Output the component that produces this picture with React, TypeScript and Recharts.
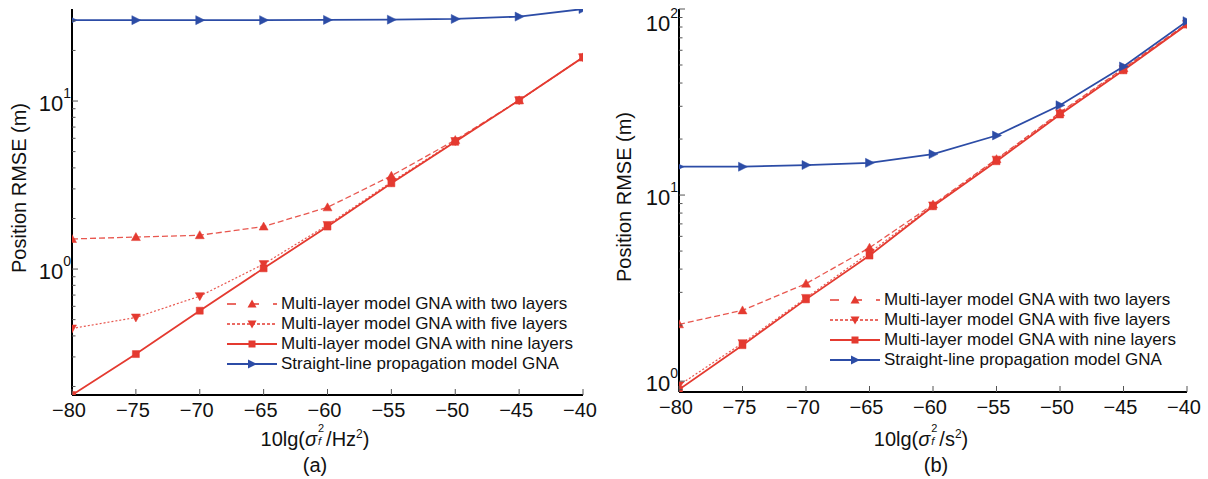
import React from 'react';
import { LineChart, Line, XAxis, YAxis, Legend } from 'recharts';

const FONT = '"Liberation Sans", Arial, Helvetica, sans-serif';
const RED = '#e43a30';
const BLUE = '#2c4ca6';
const TICK = '#555';

// shared x positions, 10lg(sigma^2)
const xValues = [-80, -75, -70, -65, -60, -55, -50, -45, -40];
const xTicks = [-80, -75, -70, -65, -60, -55, -50, -45, -40];

// (a) frequency error
const aTwoLayers = [1.51, 1.55, 1.59, 1.79, 2.33, 3.59, 5.86, 10.1, 18.2];
const aFiveLayers = [0.443, 0.515, 0.69, 1.07, 1.83, 3.3, 5.78, 10.1, 18.2];
const aNineLayers = [0.178, 0.312, 0.565, 1.01, 1.79, 3.24, 5.72, 10.1, 18.2];
const aStraight = [30.3, 30.3, 30.3, 30.3, 30.4, 30.5, 30.8, 31.8, 35.3];
const aDomain = [0.178, 35.3];
const aMajor = [1, 10];
const aMinor = [0.2, 0.3, 0.4, 0.5, 0.6, 0.7, 0.8, 0.9, 2, 3, 4, 5, 6, 7, 8, 9, 20, 30];

// (b) time error
const bTwoLayers = [2.02, 2.4, 3.34, 5.21, 8.9, 15.6, 27.8, 48, 83.5];
const bFiveLayers = [0.95, 1.6, 2.8, 4.9, 8.8, 15.5, 27.5, 47.5, 83];
const bNineLayers = [0.9, 1.56, 2.75, 4.73, 8.7, 15.2, 27.1, 46.8, 82.5];
const bStraight = [14.2, 14.2, 14.5, 14.9, 16.6, 20.9, 30.4, 49.1, 86];
const bDomain = [0.874, 100];
const bMajor = [1, 10, 100];
const bMinor = [0.9, 2, 3, 4, 5, 6, 7, 8, 9, 20, 30, 40, 50, 60, 70, 80, 90];

const seriesNames = [
  'Multi-layer model GNA with two layers',
  'Multi-layer model GNA with five layers',
  'Multi-layer model GNA with nine layers',
  'Straight-line propagation model GNA',
];

type Shape = 'up' | 'down' | 'square' | 'right';

const seriesStyle: { key: string; color: string; dash?: string; width: number; shape: Shape }[] = [
  { key: 'two', color: RED, dash: '6 3', width: 1.3, shape: 'up' },
  { key: 'five', color: RED, dash: '2 2', width: 1.2, shape: 'down' },
  { key: 'nine', color: RED, width: 1.8, shape: 'square' },
  { key: 'straight', color: BLUE, width: 1.8, shape: 'right' },
];

function buildRows(two: number[], five: number[], nine: number[], straight: number[]) {
  return xValues.map((x, i) => ({ x, two: two[i], five: five[i], nine: nine[i], straight: straight[i] }));
}

const aRows = buildRows(aTwoLayers, aFiveLayers, aNineLayers, aStraight);
const bRows = buildRows(bTwoLayers, bFiveLayers, bNineLayers, bStraight);

function markerPath(shape: Shape, cx: number, cy: number) {
  switch (shape) {
    case 'up':
      return `M${cx},${cy - 4.5}L${cx + 4.5},${cy + 3.5}L${cx - 4.5},${cy + 3.5}Z`;
    case 'down':
      return `M${cx},${cy + 4.5}L${cx + 4.5},${cy - 3.5}L${cx - 4.5},${cy - 3.5}Z`;
    case 'square':
      return `M${cx - 3.5},${cy - 3.5}h7v7h-7Z`;
    default:
      return `M${cx + 5},${cy}L${cx - 4},${cy - 4.5}L${cx - 4},${cy + 4.5}Z`;
  }
}

const makeDot = (shape: Shape, color: string, key: string) => (p: any) => {
  if (p.cx == null || p.cy == null) return <g key={`${key}-${p.index}`} />;
  return <path key={`${key}-${p.index}`} d={markerPath(shape, p.cx, p.cy)} fill={color} stroke={color} strokeWidth={0.5} />;
};

const fmtX = (v: number) => (v < 0 ? '\u2212' + Math.abs(v) : String(v));

function BottomTick(props: any) {
  const { x, y, payload } = props;
  return (
    <g>
      <line x1={x} x2={x} y1={y} y2={y - 6} stroke={TICK} />
      <text x={x - 3} y={y + 8} dy="0.71em" textAnchor="middle" fontSize={20} fill="#111" fontFamily={FONT}>
        {fmtX(payload.value)}
      </text>
    </g>
  );
}

function TopTick(props: any) {
  const { x, y } = props;
  return <line x1={x} x2={x} y1={y} y2={y + 6} stroke={TICK} />;
}

const isMajor = (v: number) => Math.abs(Math.log10(v) - Math.round(Math.log10(v))) < 1e-6;

const makeLeftTick = (top: number) => (props: any) => {
  const { x, y, payload } = props;
  const v = payload.value as number;
  const major = isMajor(v);
  const exp = Math.round(Math.log10(v));
  const shift = v >= top ? 14 : 2;
  return (
    <g>
      <line x1={x} x2={x + (major ? 6 : 3.5)} y1={y} y2={y} stroke={TICK} />
      {major && (
        <text x={x - 1} y={y + shift} textAnchor="end" fill="#111" fontFamily={FONT} fontSize={22}>
          <tspan dy="0.36em">10</tspan>
          <tspan dy="-0.9em" fontSize={14}>{exp}</tspan>
        </text>
      )}
    </g>
  );
};

function RightTick(props: any) {
  const { x, y, payload } = props;
  const major = isMajor(payload.value);
  return <line x1={x} x2={x - (major ? 6 : 3.5)} y1={y} y2={y} stroke={TICK} />;
}

function LegendBox() {
  return (
    <div style={{ fontFamily: FONT, fontSize: 17, color: '#111' }}>
      {seriesStyle.map((s, i) => (
        <div key={s.key} style={{ display: 'flex', alignItems: 'center', height: 20, whiteSpace: 'nowrap' }}>
          <svg width={52} height={16}>
            <line x1={1} x2={51} y1={8} y2={8} stroke={s.color} strokeWidth={s.dash ? 1.6 : 2} strokeDasharray={s.dash === '2 2' ? '3 2' : s.dash ? '9 14' : undefined} />
            <path d={markerPath(s.shape, 26, 8)} fill={s.color} />
          </svg>
          <span style={{ marginLeft: 3 }}>{seriesNames[i]}</span>
        </div>
      ))}
    </div>
  );
}

interface PanelProps {
  rows: any[];
  domain: number[];
  major: number[];
  minor: number[];
  width: number;
  yAxisWidth: number;
  marginRight: number;
  xAxisHeight: number;
  legendLeft: number;
  legendTop: number;
}

function Panel({ rows, domain, major, minor, width, yAxisWidth, marginRight, xAxisHeight, legendLeft, legendTop }: PanelProps) {
  const yTicks = [...minor, ...major].sort((p, q) => p - q);
  return (
    <LineChart width={width} height={479} data={rows} margin={{ top: 9, right: marginRight, bottom: 0, left: 0 }}>
      <XAxis xAxisId="bottom" dataKey="x" type="number" domain={[-80, -40]} ticks={xTicks} interval={0}
        allowDataOverflow height={xAxisHeight} tickSize={0} tickMargin={0} tickLine={false}
        axisLine={{ stroke: '#000', strokeWidth: 2 }} tick={BottomTick} />
      <XAxis xAxisId="top" orientation="top" dataKey="x" type="number" domain={[-80, -40]} ticks={xTicks} interval={0}
        allowDataOverflow height={0} tickSize={0} tickMargin={0} tickLine={false}
        axisLine={{ stroke: '#000', strokeWidth: 2 }} tick={TopTick} />
      <YAxis yAxisId="left" type="number" scale="log" domain={domain} allowDataOverflow ticks={yTicks} interval={0}
        width={yAxisWidth} tickSize={0} tickMargin={0} tickLine={false}
        axisLine={{ stroke: '#000', strokeWidth: 2 }} tick={makeLeftTick(domain[1])} />
      <YAxis yAxisId="right" orientation="right" type="number" scale="log" domain={domain} allowDataOverflow ticks={yTicks} interval={0}
        width={0} tickSize={0} tickMargin={0} tickLine={false}
        axisLine={{ stroke: '#000', strokeWidth: 2 }} tick={RightTick} />
      <Legend layout="vertical" align="center" verticalAlign="middle" content={() => <LegendBox />}
        wrapperStyle={{ left: legendLeft, top: legendTop, width: 'auto', height: 'auto' }} />
      {seriesStyle.map((s, i) => (
        <Line key={s.key} xAxisId="bottom" yAxisId="left" type="linear" dataKey={s.key} name={seriesNames[i]}
          stroke={s.color} strokeWidth={s.width} strokeDasharray={s.dash} strokeOpacity={s.dash ? 0.85 : 1}
          dot={makeDot(s.shape, s.color, s.key)} activeDot={false} isAnimationActive={false} />
      ))}
    </LineChart>
  );
}

// sigma with stacked superscript 2 and subscript f
const Sigma = ({ unit }: { unit: React.ReactNode }) => (
  <span>
    10lg(<i>σ</i>
    <span style={{ position: 'relative', display: 'inline-block', width: 9, height: '1em' }}>
      <span style={{ position: 'absolute', left: 1, top: -3, fontSize: 11, lineHeight: '11px' }}>2</span>
      <span style={{ position: 'absolute', left: 1, top: 10, fontSize: 11, lineHeight: '11px', fontStyle: 'italic' }}>f</span>
    </span>
    /{unit})
  </span>
);

const abs = (left: number, top: number, extra: React.CSSProperties = {}): React.CSSProperties => ({
  position: 'absolute', left, top, transform: 'translate(-50%, -50%)', whiteSpace: 'nowrap',
  fontFamily: FONT, fontSize: 20, color: '#111', lineHeight: '22px', ...extra,
});

export default function App() {
  return (
    <div style={{ position: 'absolute', left: 0, top: 0, width: 1208, height: 479, background: '#fff', overflow: 'hidden' }}>
      <div style={{ position: 'absolute', left: 0, top: 0 }}>
        <Panel rows={aRows} domain={aDomain} major={aMajor} minor={aMinor} width={600} yAxisWidth={72}
          marginRight={17} xAxisHeight={84} legendLeft={226} legendTop={294} />
      </div>
      <div style={{ position: 'absolute', left: 600, top: 0 }}>
        <Panel rows={bRows} domain={bDomain} major={bMajor} minor={bMinor} width={608} yAxisWidth={79}
          marginRight={21} xAxisHeight={87} legendLeft={229} legendTop={290} />
      </div>
      <div style={abs(18.5, 188, { transform: 'translate(-50%, -50%) rotate(-90deg)' })}>Position RMSE (m)</div>
      <div style={abs(624, 197, { transform: 'translate(-50%, -50%) rotate(-90deg)' })}>Position RMSE (m)</div>
      <div style={abs(315, 438)}><Sigma unit={<>Hz<sup style={{ fontSize: 12, lineHeight: 0 }}>2</sup></>} /></div>
      <div style={abs(921, 438)}><Sigma unit={<>s<sup style={{ fontSize: 12, lineHeight: 0 }}>2</sup></>} /></div>
      <div style={abs(315, 465)}>(a)</div>
      <div style={abs(936, 465)}>(b)</div>
    </div>
  );
}
